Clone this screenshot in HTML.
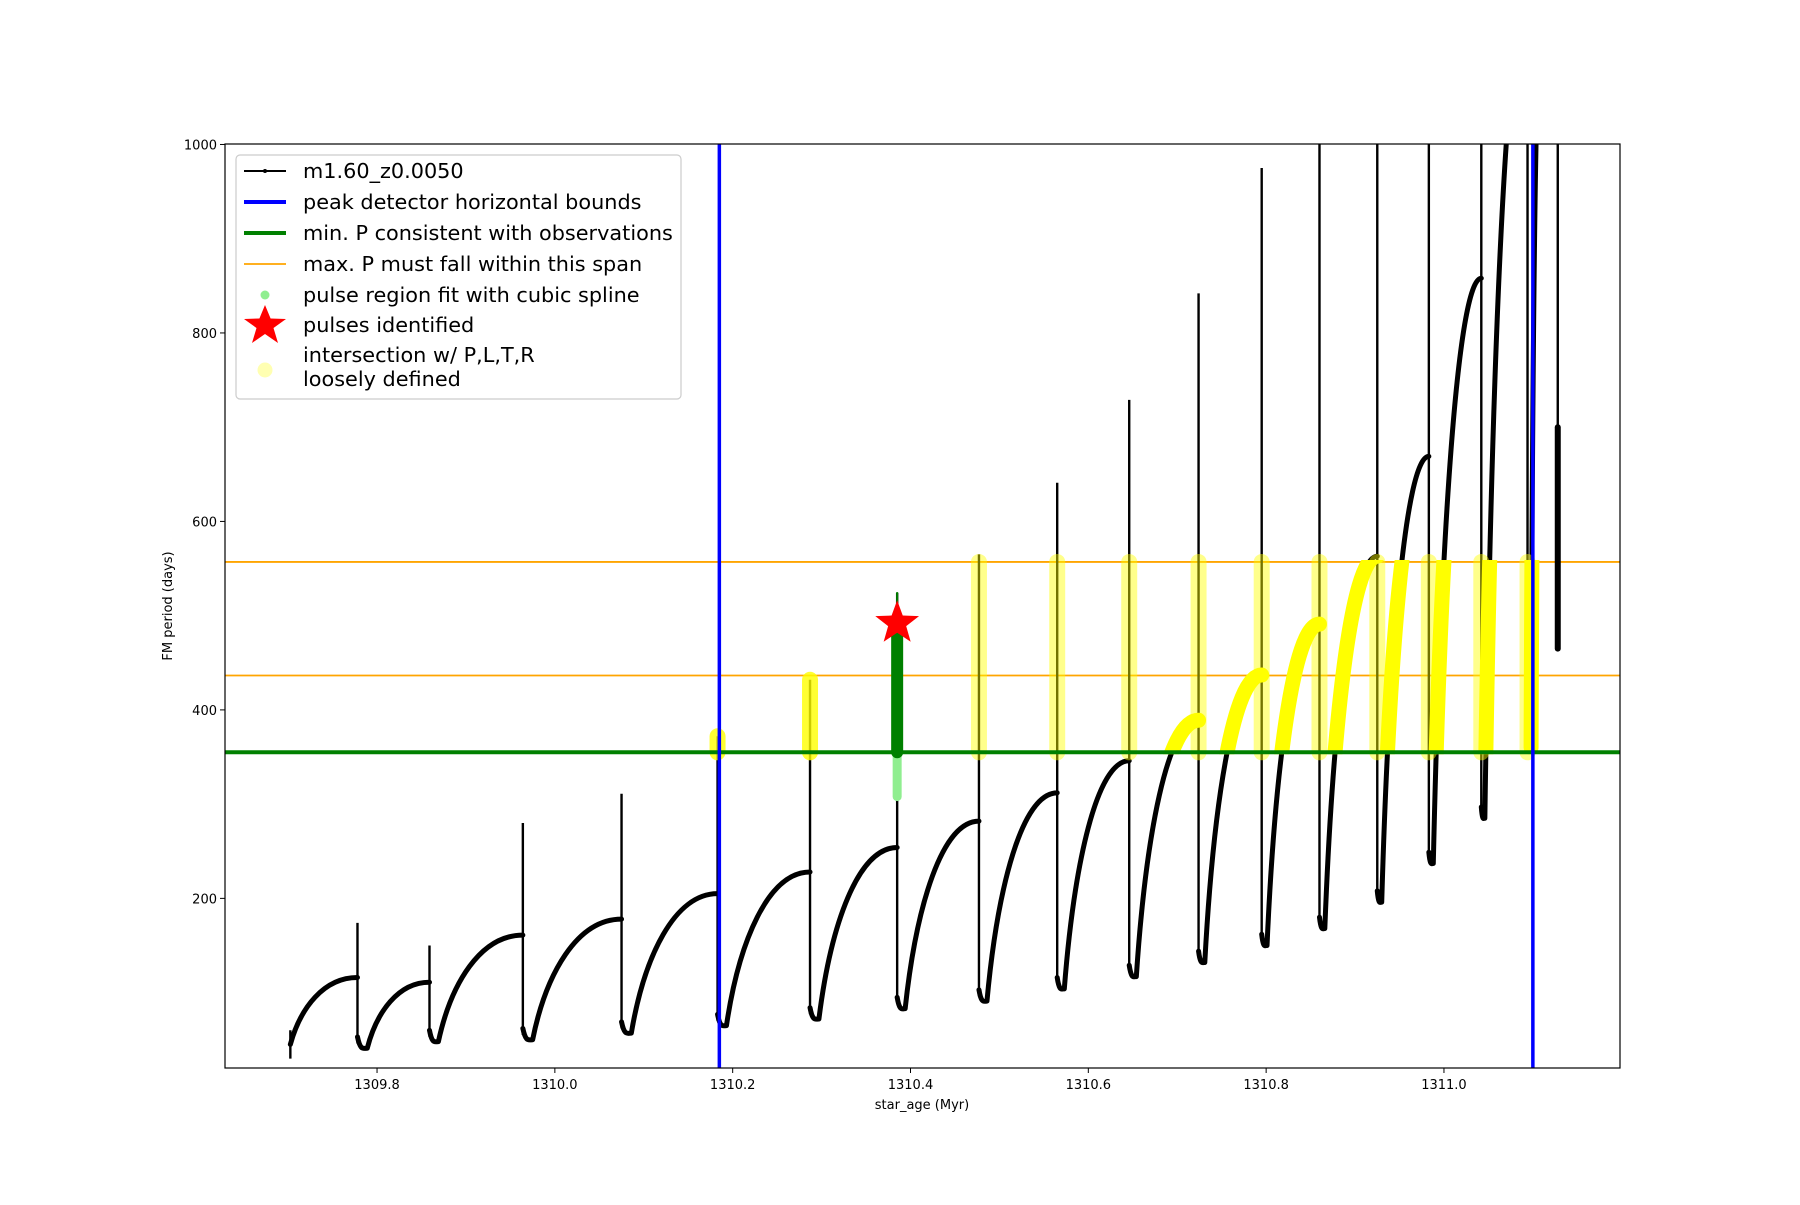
<!DOCTYPE html>
<html><head><meta charset="utf-8"><style>
body{margin:0;background:#fff}
svg text{font-family:"DejaVu Sans","Liberation Sans",sans-serif}
</style></head><body>
<svg id="chart" width="1800" height="1200" viewBox="0 0 1800 1200" xmlns="http://www.w3.org/2000/svg">
<defs>
<clipPath id="plotClip"><rect x="225" y="144" width="1395" height="924"/></clipPath>
</defs>
<rect width="1800" height="1200" fill="#fff"/>
<g id="plot" clip-path="url(#plotClip)"></g>
<g id="axes"></g>
</svg>
<script>
const pulseAge=[1309.778,1309.859,1309.964,1310.075,1310.183,1310.287,1310.385,1310.477,1310.565,1310.646,1310.724,1310.795,1310.860,1310.925,1310.983,1311.042,1311.094];
const preP=[116,111,161,178,205,228,254,282,312,346,389,437,491,563,669,858,1150];
const spikeP=[174,150,280,311,372,432,524,565,641,729,842,975,1100,1100,1100,1100,1100];
const troughAge=[1309.789,1309.869,1309.975,1310.086,1310.193,1310.297,1310.394,1310.486,1310.573,1310.654,1310.731,1310.801,1310.866,1310.930,1310.988,1311.046,1311.098];
const troughP=[41,48,50,57,65,72,83,91,104,117,132,150,168,196,237,285,360];
const startAge=1309.7025, startLow=30, startHigh=60, startP=45;
const endRiseAge=1311.108, endRiseP=1100;
const finalAge=1311.128, finalTop=1100, finalMid=700, finalBottom=465;
const bluePos=[1310.185,1311.100];
const minP=355;
const maxPSpan=[436.5,557];
const pulseFoundAge=1310.385, pulseFoundP=492, pulseTopP=525, splineLow=308;
const xTicks=[1309.8,1310.0,1310.2,1310.4,1310.6,1310.8,1311.0];
const yTicks=[200,400,600,800,1000];

const X0=1309.629,X1=1311.198,Y0=20,Y1=1000.5;
const L=225,R=1620,T=144,B=1068;
const xs=v=>L+(v-X0)/(X1-X0)*(R-L);
const ys=v=>B-(v-Y0)/(Y1-Y0)*(B-T);
const NS='http://www.w3.org/2000/svg';
const plot=document.getElementById('plot'), axes=document.getElementById('axes');
function mk(tag,attrs,parent){const e=document.createElementNS(NS,tag);for(const k in attrs)e.setAttribute(k,attrs[k]);(parent||plot).appendChild(e);return e;}
function rise(t0,p0,t1,p1){const dt=t1-t0,dp=p1-p0;
 return `M${xs(t0)},${ys(p0)} C${xs(t0+0.15*dt)},${ys(p0+0.55*dp)} ${xs(t0+0.5*dt)},${ys(p1)} ${xs(t1)},${ys(p1)}`;}

let risePath='', vertPath='', dipPath='';
vertPath+=`M${xs(startAge)},${ys(startLow)} L${xs(startAge)},${ys(startHigh)} `;
let pt=startAge, pp=startP;
for(let i=0;i<pulseAge.length;i++){
 risePath+=rise(pt,pp,pulseAge[i],preP[i])+' ';
 vertPath+=`M${xs(pulseAge[i])},${ys(spikeP[i])} L${xs(pulseAge[i])},${ys(troughP[i]+5)} `;
 const ta=troughAge[i],pa=pulseAge[i];
 dipPath+=`M${xs(pa)},${ys(troughP[i]+12)} C${xs(pa+0.3*(ta-pa))},${ys(troughP[i]-3)} ${xs(pa+0.6*(ta-pa))},${ys(troughP[i])} ${xs(ta)},${ys(troughP[i])} `;
 pt=ta; pp=troughP[i];
}
risePath+=rise(pt,pp,endRiseAge,endRiseP);
vertPath+=`M${xs(finalAge)},${ys(finalTop)} L${xs(finalAge)},${ys(finalMid)}`;

maxPSpan.forEach(v=>{const l=mk('line',{x1:L,x2:R,y1:ys(v),y2:ys(v),stroke:'#ffa500','stroke-width':1.8});

});

const rp=mk('path',{d:risePath+' '+dipPath,fill:'none',stroke:'#000','stroke-width':5,'stroke-linecap':'round'});


const vp=mk('path',{d:vertPath,fill:'none',stroke:'#000','stroke-width':2.4});


const fp=mk('line',{x1:xs(finalAge),x2:xs(finalAge),y1:ys(finalMid),y2:ys(finalBottom),stroke:'#000','stroke-width':6,'stroke-linecap':'round'});



const yc=mk('clipPath',{id:'bandClip'});
mk('rect',{x:xs(1310.66),y:ys(maxPSpan[1]+2),width:xs(1311.11)-xs(1310.66),height:ys(minP-2)-ys(maxPSpan[1]+2)},yc);
const yr=mk('path',{d:risePath,fill:'none',stroke:'#ffff00','stroke-width':15,'stroke-linecap':'round','clip-path':'url(#bandClip)'});


for(let i=0;i<pulseAge.length;i++){
 if(pulseAge[i]<1310.17||i===6) continue;
 const top=Math.min(spikeP[i],maxPSpan[1]);
 const op=(i<=5)?0.8:0.45;
 const c=mk('line',{x1:xs(pulseAge[i]),x2:xs(pulseAge[i]),y1:ys(top),y2:ys(minP),stroke:'#ffff00','stroke-width':16,'stroke-linecap':'round',opacity:op});
 
 
}

const gl=mk('line',{x1:L,x2:R,y1:ys(minP),y2:ys(minP),stroke:'#008000','stroke-width':4});



const ls=mk('line',{x1:xs(pulseFoundAge),x2:xs(pulseFoundAge),y1:ys(minP),y2:ys(splineLow),stroke:'#90ee90','stroke-width':9,'stroke-linecap':'round'});


const gs=mk('line',{x1:xs(pulseFoundAge),x2:xs(pulseFoundAge),y1:ys(pulseFoundP),y2:ys(minP),stroke:'#008000','stroke-width':12,'stroke-linecap':'round'});


const gt=mk('line',{x1:xs(pulseFoundAge),x2:xs(pulseFoundAge),y1:ys(pulseTopP),y2:ys(pulseFoundP),stroke:'#008000','stroke-width':2});



function starPts(cx,cy,ro,ri){let s='';for(let k=0;k<10;k++){const r=k%2?ri:ro,a=-Math.PI/2+k*Math.PI/5;s+=`${cx+r*Math.cos(a)},${cy+r*Math.sin(a)} `;}return s;}
const st=mk('polygon',{points:starPts(xs(pulseFoundAge),ys(pulseFoundP),23,9.5),fill:'#ff0000'});



bluePos.forEach(v=>{const b=mk('line',{x1:xs(v),x2:xs(v),y1:T,y2:B,stroke:'#0000ff','stroke-width':3.5});

});

const fr=mk('rect',{x:L,y:T,width:R-L,height:B-T,fill:'none',stroke:'#000','stroke-width':1.2},axes);


xTicks.forEach(v=>{const x=xs(v);
 mk('line',{x1:x,x2:x,y1:B,y2:B+5,stroke:'#000','stroke-width':1},axes);
 const t=mk('text',{x:x,y:B+21,'font-size':13,'text-anchor':'middle'},axes);t.textContent=v.toFixed(1);
 
 });
yTicks.forEach(v=>{const y=ys(v);
 mk('line',{x1:L-5,x2:L,y1:y,y2:y,stroke:'#000','stroke-width':1},axes);
 const t=mk('text',{x:L-8,y:y+5,'font-size':13,'text-anchor':'end'},axes);t.textContent=v;
 
 });
</script>
<svg width="1800" height="1200" style="position:absolute;left:0;top:0" xmlns="http://www.w3.org/2000/svg">
<text x="922" y="1109" font-size="13" text-anchor="middle" font-family="DejaVu Sans, Liberation Sans, sans-serif">star_age (Myr)</text>
<text transform="translate(172,606) rotate(-90)" font-size="13" text-anchor="middle" font-family="DejaVu Sans, Liberation Sans, sans-serif">FM period (days)</text>
<g font-family="DejaVu Sans, Liberation Sans, sans-serif" font-size="20.8">
<rect x="236" y="155" width="445" height="244" rx="4" fill="#fff" fill-opacity="0.85" stroke="#ccc" stroke-width="1.2"/>
<g><line x1="244" x2="286" y1="171" y2="171" stroke="#000" stroke-width="2"/><circle cx="265" cy="171" r="2"/><text x="303" y="178">m1.60_z0.0050</text></g>
<g><line x1="244" x2="286" y1="202" y2="202" stroke="#00f" stroke-width="4"/><text x="303" y="209">peak detector horizontal bounds</text></g>
<g><line x1="244" x2="286" y1="233" y2="233" stroke="#008000" stroke-width="4"/><text x="303" y="240">min. P consistent with observations</text></g>
<g><line x1="244" x2="286" y1="264" y2="264" stroke="#ffa500" stroke-width="1.8"/><text x="303" y="271">max. P must fall within this span</text></g>
<g><circle cx="265" cy="295" r="4.5" fill="#90ee90"/><text x="303" y="302">pulse region fit with cubic spline</text></g>
<g><polygon points="265,305 270.6,318.5 286,319 273.5,328 278,343 265,334 252,343 256.5,328 244,319 259.4,318.5" fill="#f00"/><text x="303" y="332">pulses identified</text></g>
<g><circle cx="265" cy="370" r="7.5" fill="#ffff00" opacity="0.3"/><text x="303" y="362">intersection w/ P,L,T,R</text><text x="303" y="386">loosely defined</text></g>
</g>
</svg>
</body></html>
